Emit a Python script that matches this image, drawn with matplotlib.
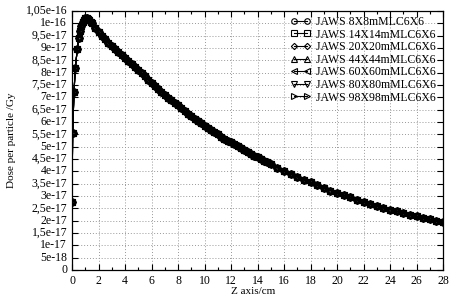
import matplotlib
matplotlib.use("Agg")
import matplotlib.pyplot as plt
from matplotlib.ticker import FuncFormatter

# depth (cm)
depth_cm = [0.0, 0.05, 0.15, 0.25, 0.4, 0.5, 0.6, 0.7, 0.8, 0.9, 1.0, 1.1, 1.2, 1.3, 1.4,
            1.5, 1.75, 2.0, 2.25, 2.5, 2.75, 3.0, 3.25, 3.5, 3.75, 4.0, 4.25, 4.5, 4.75,
            5.0, 5.25, 5.5, 5.75, 6.0, 6.25, 6.5, 6.75, 7.0, 7.25, 7.5, 7.75, 8.0, 8.25,
            8.5, 8.75, 9.0, 9.25, 9.5, 9.75, 10.0, 10.25, 10.5, 10.75, 11.0, 11.25, 11.5,
            11.75, 12.0, 12.25, 12.5, 12.75, 13.0, 13.25, 13.5, 13.75, 14.0, 14.25, 14.5,
            14.75, 15.0, 15.5, 16.0, 16.5, 17.0, 17.5, 18.0, 18.5, 19.0, 19.5, 20.0, 20.5,
            21.0, 21.5, 22.0, 22.5, 23.0, 23.5, 24.0, 24.5, 25.0, 25.5, 26.0, 26.5, 27.0,
            27.5, 28.0]

# dose per particle (units of 1e-17 Gy)
dose_e17 = [2.75, 5.55, 7.2, 8.2, 8.95, 9.4, 9.7, 9.9, 10.05, 10.15, 10.2, 10.2, 10.18,
            10.12, 10.06,
            10.0, 9.83, 9.65, 9.5, 9.35, 9.21, 9.08, 8.95, 8.83, 8.71, 8.6, 8.47, 8.35, 8.22,
            8.1, 7.97, 7.85, 7.72, 7.6, 7.46, 7.33, 7.21, 7.1, 6.99, 6.88, 6.77, 6.67, 6.56,
            6.45, 6.34, 6.24, 6.13, 6.03, 5.94, 5.85, 5.76, 5.68, 5.59, 5.5, 5.41, 5.33,
            5.25, 5.17, 5.09, 5.02, 4.94, 4.87, 4.79, 4.72, 4.64, 4.57, 4.5, 4.43,
            4.36, 4.29, 4.15, 4.02, 3.9, 3.78, 3.66, 3.55, 3.44, 3.33, 3.22, 3.12, 3.03,
            2.94, 2.85, 2.76, 2.68, 2.6, 2.52, 2.45, 2.38, 2.31, 2.24, 2.17, 2.11, 2.05,
            1.99, 1.93]

series_labels = ["JAWS 8X8mMLC6X6", "JAWS 14X14mMLC6X6", "JAWS 20X20mMLC6X6",
                 "JAWS 44X44mMLC6X6", "JAWS 60X60mMLC6X6", "JAWS 80X80mMLC6X6",
                 "JAWS 98X98mMLC6X6"]

x_ticks = [0, 2, 4, 6, 8, 10, 12, 14, 16, 18, 20, 22, 24, 26, 28]
y_ticks_e18 = [0, 5, 10, 15, 20, 25, 30, 35, 40, 45, 50, 55, 60, 65, 70, 75, 80, 85,
               90, 95, 100, 105]

markers = ["o", "s", "D", "^", "<", "v", ">"]
msizes = [5, 5, 4, 5, 5, 5, 5]

plt.rcParams['font.family'] = ['Liberation Serif', 'DejaVu Serif']

fig = plt.figure(figsize=(4.68, 3.02), dpi=100)
ax = fig.add_axes([72/468, 32/302, (443-72)/468, (270-11)/302])

dose = [v * 1e-17 for v in dose_e17]
for lab, m, ms in zip(series_labels, markers, msizes):
    ax.plot(depth_cm, dose, color='black', lw=0.8, marker=m, ms=ms,
            mfc='none', mec='black', mew=0.8, label=lab)

ax.set_xlim(0, 28)
ax.set_ylim(0, 1.05e-16)
ax.set_xticks(x_ticks)
ax.set_xticks([t + 1 for t in x_ticks[:-1]], minor=True)
ax.set_yticks([v * 1e-18 for v in y_ticks_e18])

def fmt(v, pos):
    if abs(v) < 1e-30:
        return "0"
    s = f"{v:.2e}"
    mant, exp = s.split("e")
    mant = mant.rstrip("0").rstrip(".")
    exp = "-" + exp[1:].lstrip("0") if exp[0] == "-" else exp.lstrip("+0")
    return mant.replace(".", ",") + "e" + exp

ax.yaxis.set_major_formatter(FuncFormatter(fmt))
ax.tick_params(which='both', direction='in', top=True, right=True, labelsize=8.5,
               width=0.8, color='black')
ax.tick_params(which='major', length=4, pad=3.5)
ax.tick_params(which='minor', length=2.5)
ax.grid(True, which='major', linestyle=(0, (1, 2)), color='#999999', lw=0.7)
for sp in ax.spines.values():
    sp.set_linewidth(0.9)
for t in ax.yaxis.get_major_ticks():
    t.label1.set_verticalalignment('center')

ax.set_xlabel("Z axis/cm", fontsize=8)
ax.set_ylabel("Dose per particle /Gy", fontsize=8)
ax.xaxis.set_label_coords((253.5 - 72) / 371, (270 - 287) / 259)
ax.yaxis.set_label_coords((16 - 72) / 371, 0.5)

leg = ax.legend(loc='upper right', bbox_to_anchor=((436 - 72) / 371, (270 - 16) / 259),
                frameon=False, fontsize=8.5, handlelength=1.7, numpoints=2,
                markerscale=0.8, handletextpad=0.5, labelspacing=0.05,
                borderaxespad=0.0, borderpad=0.0)

fig.savefig("out.png", dpi=100)
